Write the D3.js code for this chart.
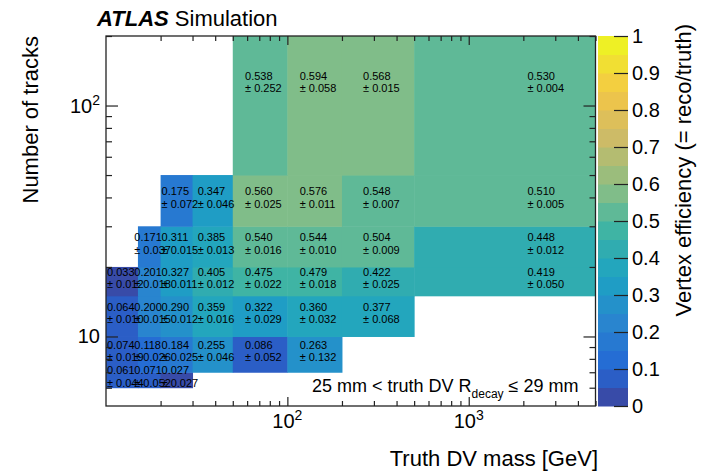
<!DOCTYPE html>
<html lang="en">
<head>
<meta charset="UTF-8">
<title>Vertex efficiency vs truth DV mass and number of tracks</title>
<script src="https://d3js.org/d3.v7.min.js"></script>
<style>
    body { margin: 0; padding: 0; background: #fff; }
    svg { display: block; font-family: "Liberation Sans", Arial, Helvetica, sans-serif; }
    .cell-text { font-size: 11px; fill: #000; }
    .tick line { stroke: #222; stroke-width: 1.2px; }
    .axis path { display: none; }
</style>
</head>
<body>
<svg id="chart" width="702" height="471"></svg>
<script>
    // bin edges (GeV for mass, number of tracks)
    const xEdges = [10, 15, 20, 30, 50, 100, 200, 500, 13000];
    const yEdges = [6, 7, 10, 15, 20, 30, 50, 300];

    // efficiency per row, from lowest track bin upwards (null = empty bin)
    const effRows = [
        [0.061, 0.071, 0.027, null, null, null, null, null],
        [0.074, 0.118, 0.184, 0.255, 0.086, 0.263, null, null],
        [0.064, 0.200, 0.290, 0.359, 0.322, 0.360, 0.377, null],
        [0.033, 0.201, 0.327, 0.405, 0.475, 0.479, 0.422, 0.419],
        [null, 0.171, 0.311, 0.385, 0.540, 0.544, 0.504, 0.448],
        [null, null, 0.175, 0.347, 0.560, 0.576, 0.548, 0.510],
        [null, null, null, null, 0.538, 0.594, 0.568, 0.530]
    ];
    const errRows = [
        [0.044, 0.052, 0.027, null, null, null, null, null],
        [0.019, 0.026, 0.025, 0.046, 0.052, 0.132, null, null],
        [0.010, 0.015, 0.012, 0.016, 0.029, 0.032, 0.068, null],
        [0.012, 0.018, 0.011, 0.012, 0.022, 0.018, 0.025, 0.050],
        [null, 0.037, 0.015, 0.013, 0.016, 0.010, 0.009, 0.012],
        [null, null, 0.072, 0.046, 0.025, 0.011, 0.007, 0.005],
        [null, null, null, null, 0.252, 0.058, 0.015, 0.004]
    ];

    const xMajor = [100, 1000];
    const xMinor = [20, 30, 40, 50, 60, 70, 80, 90, 200, 300, 400, 500, 600, 700, 800, 900, 2000, 3000, 4000, 5000];
    const yMajor = [10, 100];
    const yMinor = [6, 7, 8, 9, 20, 30, 40, 50, 60, 70, 80, 90, 200];
    const zTicks = [0, 0.1, 0.2, 0.3, 0.4, 0.5, 0.6, 0.7, 0.8, 0.9, 1];

    // ROOT kBird palette
    const birdStops = [0.0, 0.125, 0.25, 0.375, 0.5, 0.625, 0.75, 0.875, 1.0];
    const birdR = [0.2082, 0.0592, 0.0780, 0.0232, 0.1802, 0.5301, 0.8186, 0.9956, 0.9764];
    const birdG = [0.1664, 0.3599, 0.5041, 0.6419, 0.7178, 0.7492, 0.7328, 0.7862, 0.9832];
    const birdB = [0.5293, 0.8684, 0.8385, 0.7914, 0.6425, 0.4662, 0.3499, 0.1968, 0.0539];
    const nContours = 20;

    function bird(t) {
        const r = d3.scaleLinear().domain(birdStops).range(birdR).clamp(true)(t);
        const g = d3.scaleLinear().domain(birdStops).range(birdG).clamp(true)(t);
        const b = d3.scaleLinear().domain(birdStops).range(birdB).clamp(true)(t);
        // the printed figure is a little washed out
        const c = d3.hsl(d3.rgb(r * 255, g * 255, b * 255));
        c.s *= 0.9;
        return d3.interpolateRgb(c.formatRgb(), "#ffffff")(0.05);
    }
    function bandColor(i) {
        return bird((i + 0.99) / nContours);
    }
    function valueColor(v) {
        return bandColor(Math.min(nContours - 1, Math.floor(v * nContours)));
    }

    const svg = d3.select("#chart");
    const plot = { left: 106, right: 595.5, top: 36, bottom: 406 };

    const x = d3.scaleLog().domain([10, 5000]).range([plot.left, plot.right]);
    const y = d3.scaleLog().domain([5, 200]).range([plot.bottom, plot.top]);
    const z = d3.scaleLinear().domain([0, 1]).range([plot.bottom, plot.top]);

    svg.append("rect").attr("width", 702).attr("height", 471).attr("fill", "#fff");

    svg.append("clipPath").attr("id", "plotclip")
        .append("rect")
        .attr("x", plot.left).attr("y", plot.top)
        .attr("width", plot.right - plot.left).attr("height", plot.bottom - plot.top);

    const cells = [];
    effRows.forEach((row, j) => {
        row.forEach((v, i) => {
            if (v === null) return;
            cells.push({ i, j, v, e: errRows[j][i] });
        });
    });

    const gCells = svg.append("g").attr("clip-path", "url(#plotclip)");
    gCells.selectAll("rect")
        .data(cells)
        .enter()
        .append("rect")
        .attr("x", d => x(xEdges[d.i]))
        .attr("y", d => y(yEdges[d.j + 1]))
        .attr("width", d => x(xEdges[d.i + 1]) - x(xEdges[d.i]) + 0.5)
        .attr("height", d => y(yEdges[d.j]) - y(yEdges[d.j + 1]) + 0.5)
        .attr("fill", d => valueColor(d.v));

    // cell labels: value and error, two lines
    const labels = svg.append("g").selectAll("text")
        .data(cells)
        .enter()
        .append("text")
        .attr("class", "cell-text")
        .attr("transform", d => {
            const cx = x(Math.sqrt(xEdges[d.i] * xEdges[d.i + 1])) - 15;
            const cy = y(Math.sqrt(yEdges[d.j] * yEdges[d.j + 1]));
            return `translate(${cx},${cy})`;
        });
    labels.append("tspan").attr("x", 0).attr("y", -5.5).text(d => d.v.toFixed(3));
    labels.append("tspan").attr("x", 0).attr("y", 7).text(d => "\u00b1 " + d.e.toFixed(3));

    // axes: ticks pointing inwards on all four sides
    function tickAxis(axis, values, size, transform) {
        svg.append("g")
            .attr("class", "axis")
            .attr("transform", transform)
            .call(axis.tickValues(values).tickSize(-size).tickFormat(""));
    }
    tickAxis(d3.axisBottom(x), xMajor, 9, `translate(0,${plot.bottom})`);
    tickAxis(d3.axisBottom(x), xMinor, 5, `translate(0,${plot.bottom})`);
    tickAxis(d3.axisTop(x), xMajor, 9, `translate(0,${plot.top})`);
    tickAxis(d3.axisTop(x), xMinor, 5, `translate(0,${plot.top})`);
    tickAxis(d3.axisLeft(y), yMajor, 12, `translate(${plot.left},0)`);
    tickAxis(d3.axisLeft(y), yMinor, 6, `translate(${plot.left},0)`);
    tickAxis(d3.axisRight(y), yMajor, 12, `translate(${plot.right},0)`);
    tickAxis(d3.axisRight(y), yMinor, 6, `translate(${plot.right},0)`);

    svg.append("rect")
        .attr("x", plot.left).attr("y", plot.top)
        .attr("width", plot.right - plot.left).attr("height", plot.bottom - plot.top)
        .attr("fill", "none").attr("stroke", "#222").attr("stroke-width", 1.3);

    // power-of-ten tick labels
    function powLabel(g, v) {
        const p = Math.round(Math.log10(v));
        g.append("tspan").text("10");
        if (p !== 1) {
            g.append("tspan").attr("dy", -8).attr("font-size", 14).text(p);
        }
    }
    xMajor.forEach(v => {
        const t = svg.append("text")
            .attr("x", x(v)).attr("y", 428)
            .attr("text-anchor", "middle")
            .attr("font-size", 20);
        powLabel(t, v);
    });
    yMajor.forEach(v => {
        const t = svg.append("text")
            .attr("x", 100).attr("y", y(v) + 7)
            .attr("text-anchor", "end")
            .attr("font-size", 20);
        powLabel(t, v);
    });

    // axis titles
    svg.append("text")
        .attr("x", 598).attr("y", 466)
        .attr("text-anchor", "end")
        .attr("font-size", 22)
        .text("Truth DV mass [GeV]");

    svg.append("text")
        .attr("transform", "translate(38,36) rotate(-90)")
        .attr("text-anchor", "end")
        .attr("font-size", 22)
        .text("Number of tracks");

    // colour bar
    const cb = { left: 598, right: 628 };
    svg.append("g").selectAll("rect")
        .data(d3.range(nContours))
        .enter()
        .append("rect")
        .attr("x", cb.left)
        .attr("y", i => z((i + 1) / nContours))
        .attr("width", cb.right - cb.left)
        .attr("height", i => z(i / nContours) - z((i + 1) / nContours) + 0.5)
        .attr("fill", i => bandColor(i));

    svg.append("g")
        .attr("class", "axis")
        .attr("transform", `translate(${cb.right},0)`)
        .call(d3.axisRight(z).tickValues(zTicks).tickSize(-14).tickPadding(4)
            .tickFormat(d => (d === 0 || d === 1) ? String(d) : d.toFixed(1)))
        .selectAll("text")
        .attr("font-size", 20)
        .attr("font-family", "Liberation Sans, Arial, sans-serif")
        .attr("fill", "#000");

    svg.append("text")
        .attr("transform", "translate(691,24) rotate(-90)")
        .attr("text-anchor", "end")
        .attr("font-size", 22)
        .text("Vertex efficiency (= reco/truth)");

    // labels
    const atlas = svg.append("text").attr("x", 97).attr("y", 26).attr("font-size", 22);
    atlas.append("tspan").attr("font-weight", "bold").attr("font-style", "italic").text("ATLAS");
    atlas.append("tspan").text(" Simulation");

    const note = svg.append("text").attr("x", 312).attr("y", 392).attr("font-size", 18);
    note.append("tspan").text("25 mm < truth DV R");
    note.append("tspan").attr("dy", 6).attr("font-size", 12).text("decay");
    note.append("tspan").attr("dy", -6).text(" \u2264 29 mm");
</script>
</body>
</html>
